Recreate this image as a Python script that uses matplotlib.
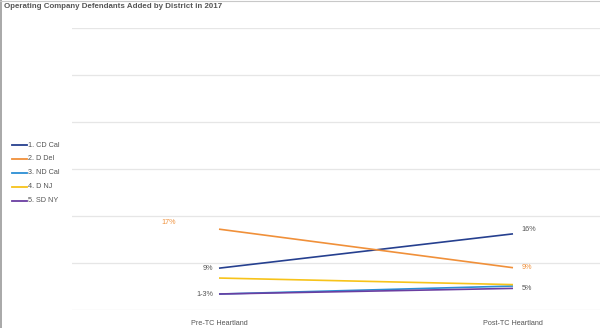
import matplotlib
matplotlib.use("Agg")
import matplotlib.pyplot as plt
from matplotlib.lines import Line2D

plt.rcParams['font.family'] = ['Liberation Sans', 'DejaVu Sans']

categories = ["Pre-TC Heartland", "Post-TC Heartland"]
series_names = ["1. CD Cal", "2. D Del", "3. ND Cal", "4. D NJ", "5. SD NY"]
cd_cal = [8.9, 16.2]
d_del = [17.2, 9.0]
nd_cal = [3.4, 5.1]
d_nj = [6.8, 5.4]
sd_ny = [3.4, 4.6]
series_values = [cd_cal, d_del, nd_cal, d_nj, sd_ny]
colors = ["#26408f", "#f0903a", "#2b8fd4", "#f7c31a", "#6a3ea1"]
y_ticks = [0, 10, 20, 30, 40, 50, 60]
point_labels = [
    (0, 1, "17%", "#f0903a"), (0, 0, "9%", "#555555"), (0, 4, "1-3%", "#555555"),
    (1, 0, "16%", "#555555"), (1, 1, "9%", "#f0903a"), (1, 4, "5%", "#555555"),
]

fig = plt.figure(figsize=(6.0, 3.28), dpi=100)
ax = fig.add_axes([72/600, (328-310)/328, (660-72)/600, (310-28)/328])
ax.set_xlim(-0.5, 1.5)
ax.set_ylim(0, 60)
ax.set_yticks(y_ticks)
ax.yaxis.grid(True, color="#e6e6e6", linewidth=0.9)
ax.set_axisbelow(True)
for s in ax.spines.values():
    s.set_visible(False)
ax.tick_params(axis='y', left=False, labelleft=False)
ax.tick_params(axis='x', bottom=False, labelsize=5.2, labelcolor="#555555", pad=4)
ax.set_xticks([0, 1])
ax.set_xticklabels(categories)

xs = [0, 1]
order = [2, 4, 3, 1, 0]
for i in order:
    ax.plot(xs, series_values[i], color=colors[i], linewidth=1.2, solid_capstyle='butt', zorder=3 + i)

for xi, si, txt, col in point_labels:
    v = series_values[si][xi]
    if xi == 0:
        if txt == "17%":
            ax.annotate(txt, (xi, v), xytext=(-31, 2), textcoords='offset points',
                        ha='right', va='bottom', fontsize=5.2, color=col)
        else:
            ax.annotate(txt, (xi, v), xytext=(-4, 0), textcoords='offset points',
                        ha='right', va='center', fontsize=5.2, color=col)
    else:
        ax.annotate(txt, (xi, v), xytext=(6, 3 if txt == "16%" else 0), textcoords='offset points',
                    ha='left', va='center', fontsize=5.2, color=col)

# legend
leg_y = [145, 159, 173, 187, 201]
for name, col, yy in zip(series_names, colors, leg_y):
    fy = 1 - yy/328
    fig.add_artist(Line2D([12/600, 27/600], [fy, fy], color=col, linewidth=1.3))
    fig.text(28/600, fy, name, fontsize=5.2, color="#555555", va='center', ha='left')

fig.text(4/600, 1 - 7/328, "Operating Company Defendants Added by District in 2017",
         fontsize=5.7, fontweight='bold', color="#555555", va='center', ha='left')

# border
fig.add_artist(Line2D([1/600, 1/600], [0, 1], color="#9a9a9a", linewidth=1.2))
fig.add_artist(Line2D([0, 1], [1 - 0.5/328, 1 - 0.5/328], color="#c8c8c8", linewidth=0.8))

fig.savefig("out.png", dpi=100)
